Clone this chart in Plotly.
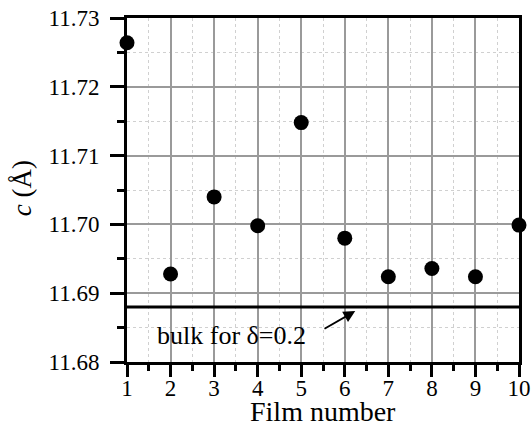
import plotly.graph_objects as go

film_number = [1, 2, 3, 4, 5, 6, 7, 8, 9, 10]
c_values = [11.7264, 11.6928, 11.7040, 11.6998, 11.7148, 11.6980, 11.6924, 11.6936, 11.6924, 11.6999]
bulk_c = 11.688
x_ticks = [1, 2, 3, 4, 5, 6, 7, 8, 9, 10]
y_ticks = [11.68, 11.69, 11.70, 11.71, 11.72, 11.73]
y_tick_text = ["11.68", "11.69", "11.70", "11.71", "11.72", "11.73"]

font_family = "Liberation Serif"

fig = go.Figure()

fig.add_trace(go.Scatter(
    x=[1, 10], y=[bulk_c, bulk_c], mode="lines",
    line=dict(color="black", width=3), showlegend=False, hoverinfo="skip",
))

fig.add_trace(go.Scatter(
    x=film_number, y=c_values, mode="markers",
    marker=dict(color="black", size=15, line=dict(width=0)),
    cliponaxis=False, showlegend=False,
))

fig.add_annotation(
    x=6.24, y=11.6874, ax=5.5, ay=11.6847, axref="x", ayref="y", xref="x", yref="y",
    showarrow=True, arrowhead=2, arrowsize=1.3, arrowwidth=1.8, arrowcolor="black", text="",
)
fig.add_annotation(
    x=3.4, y=11.6838, xref="x", yref="y", text="bulk for δ=0.2", showarrow=False,
    font=dict(family=font_family, size=26, color="black"),
)

# axis titles
fig.add_annotation(
    x=0.5, y=-0.143, xref="paper", yref="paper", text="Film number", showarrow=False,
    xanchor="center", yanchor="middle", height=24, valign="middle",
    font=dict(family=font_family, size=28, color="black"),
)
fig.add_annotation(
    x=-0.268, y=0.505, xref="paper", yref="paper", text="<i>c</i> (Å)", showarrow=False,
    textangle=-90, xanchor="center", yanchor="middle",
    font=dict(family=font_family, size=27, color="black"),
)

fig.update_layout(
    width=531, height=425,
    margin=dict(l=127, r=12, t=18, b=63),
    paper_bgcolor="white", plot_bgcolor="white",
    font=dict(family=font_family, color="black"),
)

fig.update_xaxes(
    range=[1, 10], tickmode="array", tickvals=x_ticks, ticktext=[str(v) for v in x_ticks],
    automargin=False,
    showline=True, linecolor="black", linewidth=3, mirror=True,
    ticks="outside", ticklen=12, tickwidth=3, tickcolor="black",
    tickfont=dict(size=23, family=font_family), ticklabelstandoff=-9,
    showgrid=True, gridcolor="#9a9a9a", gridwidth=1.5, zeroline=False,
    minor=dict(dtick=0.5, tick0=1, ticks="outside", ticklen=6, tickwidth=3, tickcolor="black",
               showgrid=True, gridcolor="#d0d0d0", griddash="dot", gridwidth=1),
)

fig.update_yaxes(
    range=[11.68, 11.73], tickmode="array", tickvals=y_ticks, ticktext=y_tick_text,
    automargin=False,
    showline=True, linecolor="black", linewidth=3, mirror=True,
    ticks="outside", ticklen=14, tickwidth=3, tickcolor="black",
    tickfont=dict(size=23, family=font_family), ticklabelstandoff=6,
    showgrid=True, gridcolor="#9a9a9a", gridwidth=1.5, zeroline=False,
    minor=dict(dtick=0.005, tick0=11.68, ticks="outside", ticklen=7, tickwidth=3, tickcolor="black",
               showgrid=True, gridcolor="#d0d0d0", griddash="dot", gridwidth=1),
)

fig.write_html("out.html")
